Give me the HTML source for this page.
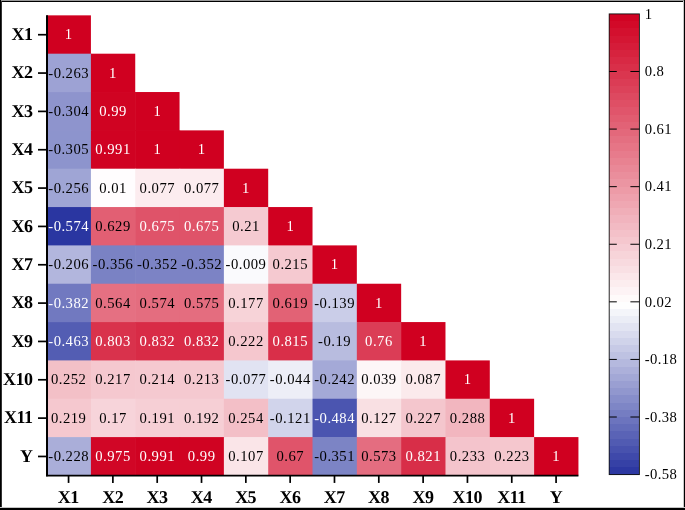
<!DOCTYPE html>
<html lang="en"><head><meta charset="utf-8"><title>Correlation heatmap</title>
<style>html,body{margin:0;padding:0;background:#fff;}body{width:685px;height:510px;overflow:hidden;}svg{display:block;}</style>
</head><body>
<svg width="685" height="510" viewBox="0 0 685 510">
<rect x="0" y="0" width="685" height="510" fill="#fff"/>
<g>
<rect x="46.60" y="15.35" width="44.32" height="38.94" fill="#d00020"/>
<rect x="46.60" y="53.69" width="44.92" height="38.94" fill="#9da2d4"/>
<rect x="90.92" y="53.69" width="44.32" height="38.94" fill="#d00020"/>
<rect x="46.60" y="92.03" width="44.92" height="38.94" fill="#8e94cd"/>
<rect x="90.92" y="92.03" width="44.92" height="38.94" fill="#d00322"/>
<rect x="135.24" y="92.03" width="44.32" height="38.94" fill="#d00020"/>
<rect x="46.60" y="130.37" width="44.92" height="38.94" fill="#8d94cd"/>
<rect x="90.92" y="130.37" width="44.92" height="38.94" fill="#d00222"/>
<rect x="135.24" y="130.37" width="44.92" height="38.94" fill="#d00020"/>
<rect x="179.56" y="130.37" width="44.32" height="38.94" fill="#d00020"/>
<rect x="46.60" y="168.71" width="44.92" height="38.94" fill="#9fa5d5"/>
<rect x="90.92" y="168.71" width="44.92" height="38.94" fill="#fffdfe"/>
<rect x="135.24" y="168.71" width="44.92" height="38.94" fill="#fcecef"/>
<rect x="179.56" y="168.71" width="44.92" height="38.94" fill="#fcecef"/>
<rect x="223.88" y="168.71" width="44.32" height="38.94" fill="#d00020"/>
<rect x="46.60" y="207.05" width="44.92" height="38.94" fill="#2a36a1"/>
<rect x="90.92" y="207.05" width="44.92" height="38.94" fill="#e25f73"/>
<rect x="135.24" y="207.05" width="44.92" height="38.94" fill="#df5369"/>
<rect x="179.56" y="207.05" width="44.92" height="38.94" fill="#df5369"/>
<rect x="223.88" y="207.05" width="44.92" height="38.94" fill="#f5cad1"/>
<rect x="268.20" y="207.05" width="44.32" height="38.94" fill="#d00020"/>
<rect x="46.60" y="245.39" width="44.92" height="38.94" fill="#b2b6dd"/>
<rect x="90.92" y="245.39" width="44.92" height="38.94" fill="#7a82c4"/>
<rect x="135.24" y="245.39" width="44.92" height="38.94" fill="#7c83c5"/>
<rect x="179.56" y="245.39" width="44.92" height="38.94" fill="#7c83c5"/>
<rect x="223.88" y="245.39" width="44.92" height="38.94" fill="#fafafd"/>
<rect x="268.20" y="245.39" width="44.92" height="38.94" fill="#f5c9d0"/>
<rect x="312.52" y="245.39" width="44.32" height="38.94" fill="#d00020"/>
<rect x="46.60" y="283.73" width="44.92" height="38.94" fill="#7179c0"/>
<rect x="90.92" y="283.73" width="44.92" height="38.94" fill="#e57082"/>
<rect x="135.24" y="283.73" width="44.92" height="38.94" fill="#e46d7f"/>
<rect x="179.56" y="283.73" width="44.92" height="38.94" fill="#e46d7f"/>
<rect x="223.88" y="283.73" width="44.92" height="38.94" fill="#f7d3d8"/>
<rect x="268.20" y="283.73" width="44.92" height="38.94" fill="#e26275"/>
<rect x="312.52" y="283.73" width="44.92" height="38.94" fill="#cacde8"/>
<rect x="356.84" y="283.73" width="44.32" height="38.94" fill="#d00020"/>
<rect x="46.60" y="322.07" width="44.92" height="38.94" fill="#535db3"/>
<rect x="90.92" y="322.07" width="44.92" height="38.94" fill="#d9324c"/>
<rect x="135.24" y="322.07" width="44.92" height="38.94" fill="#d82b46"/>
<rect x="179.56" y="322.07" width="44.92" height="38.94" fill="#d82b46"/>
<rect x="223.88" y="322.07" width="44.92" height="38.94" fill="#f5c7ce"/>
<rect x="268.20" y="322.07" width="44.92" height="38.94" fill="#d92f49"/>
<rect x="312.52" y="322.07" width="44.92" height="38.94" fill="#b8bcdf"/>
<rect x="356.84" y="322.07" width="44.92" height="38.94" fill="#db3d56"/>
<rect x="401.16" y="322.07" width="44.32" height="38.94" fill="#d00020"/>
<rect x="46.60" y="360.41" width="44.92" height="38.94" fill="#f3c0c7"/>
<rect x="90.92" y="360.41" width="44.92" height="38.94" fill="#f5c8cf"/>
<rect x="135.24" y="360.41" width="44.92" height="38.94" fill="#f5c9d0"/>
<rect x="179.56" y="360.41" width="44.92" height="38.94" fill="#f5c9d0"/>
<rect x="223.88" y="360.41" width="44.92" height="38.94" fill="#e1e3f2"/>
<rect x="268.20" y="360.41" width="44.92" height="38.94" fill="#edeef7"/>
<rect x="312.52" y="360.41" width="44.92" height="38.94" fill="#a4a9d7"/>
<rect x="356.84" y="360.41" width="44.92" height="38.94" fill="#fdf6f7"/>
<rect x="401.16" y="360.41" width="44.92" height="38.94" fill="#fbeaec"/>
<rect x="445.48" y="360.41" width="44.32" height="38.94" fill="#d00020"/>
<rect x="46.60" y="398.75" width="44.92" height="38.94" fill="#f5c8cf"/>
<rect x="90.92" y="398.75" width="44.92" height="38.94" fill="#f7d4da"/>
<rect x="135.24" y="398.75" width="44.92" height="38.94" fill="#f6cfd5"/>
<rect x="179.56" y="398.75" width="44.92" height="38.94" fill="#f6cfd5"/>
<rect x="223.88" y="398.75" width="44.92" height="38.94" fill="#f3bfc7"/>
<rect x="268.20" y="398.75" width="44.92" height="38.94" fill="#d1d4eb"/>
<rect x="312.52" y="398.75" width="44.92" height="38.94" fill="#4b55b0"/>
<rect x="356.84" y="398.75" width="44.92" height="38.94" fill="#f9e0e3"/>
<rect x="401.16" y="398.75" width="44.92" height="38.94" fill="#f4c6cd"/>
<rect x="445.48" y="398.75" width="44.92" height="38.94" fill="#f2b6bf"/>
<rect x="489.80" y="398.75" width="44.32" height="38.94" fill="#d00020"/>
<rect x="46.60" y="437.09" width="44.92" height="38.34" fill="#aaaed9"/>
<rect x="90.92" y="437.09" width="44.92" height="38.34" fill="#d10626"/>
<rect x="135.24" y="437.09" width="44.92" height="38.34" fill="#d00222"/>
<rect x="179.56" y="437.09" width="44.92" height="38.34" fill="#d00322"/>
<rect x="223.88" y="437.09" width="44.92" height="38.34" fill="#fae5e8"/>
<rect x="268.20" y="437.09" width="44.92" height="38.34" fill="#e0546a"/>
<rect x="312.52" y="437.09" width="44.92" height="38.34" fill="#7c84c5"/>
<rect x="356.84" y="437.09" width="44.92" height="38.34" fill="#e46d80"/>
<rect x="401.16" y="437.09" width="44.92" height="38.34" fill="#d82e48"/>
<rect x="445.48" y="437.09" width="44.92" height="38.34" fill="#f4c4cc"/>
<rect x="489.80" y="437.09" width="44.92" height="38.34" fill="#f5c7ce"/>
<rect x="534.12" y="437.09" width="44.32" height="38.34" fill="#d00020"/>
</g>
<g font-family="'Liberation Serif', 'Times New Roman', serif" font-size="14.67" letter-spacing="0.5">
<text x="64.79" y="39.42" fill="#fff">1</text>
<text x="48.26" y="77.76" fill="#000">-0.263</text>
<text x="109.11" y="77.76" fill="#fff">1</text>
<text x="48.26" y="116.10" fill="#000">-0.304</text>
<text x="99.19" y="116.10" fill="#fff">0.99</text>
<text x="153.43" y="116.10" fill="#fff">1</text>
<text x="48.26" y="154.44" fill="#000">-0.305</text>
<text x="95.28" y="154.44" fill="#fff">0.991</text>
<text x="153.43" y="154.44" fill="#fff">1</text>
<text x="197.75" y="154.44" fill="#fff">1</text>
<text x="48.26" y="192.78" fill="#000">-0.256</text>
<text x="99.19" y="192.78" fill="#000">0.01</text>
<text x="139.60" y="192.78" fill="#000">0.077</text>
<text x="183.92" y="192.78" fill="#000">0.077</text>
<text x="242.07" y="192.78" fill="#fff">1</text>
<text x="48.26" y="231.12" fill="#fff">-0.574</text>
<text x="95.28" y="231.12" fill="#000">0.629</text>
<text x="139.60" y="231.12" fill="#fff">0.675</text>
<text x="183.92" y="231.12" fill="#fff">0.675</text>
<text x="232.15" y="231.12" fill="#000">0.21</text>
<text x="286.39" y="231.12" fill="#fff">1</text>
<text x="48.26" y="269.46" fill="#000">-0.206</text>
<text x="92.58" y="269.46" fill="#000">-0.356</text>
<text x="136.90" y="269.46" fill="#000">-0.352</text>
<text x="181.22" y="269.46" fill="#000">-0.352</text>
<text x="225.54" y="269.46" fill="#000">-0.009</text>
<text x="272.56" y="269.46" fill="#000">0.215</text>
<text x="330.71" y="269.46" fill="#fff">1</text>
<text x="48.26" y="307.80" fill="#fff">-0.382</text>
<text x="95.28" y="307.80" fill="#000">0.564</text>
<text x="139.60" y="307.80" fill="#000">0.574</text>
<text x="183.92" y="307.80" fill="#000">0.575</text>
<text x="228.24" y="307.80" fill="#000">0.177</text>
<text x="272.56" y="307.80" fill="#000">0.619</text>
<text x="314.18" y="307.80" fill="#000">-0.139</text>
<text x="375.03" y="307.80" fill="#fff">1</text>
<text x="48.26" y="346.14" fill="#fff">-0.463</text>
<text x="95.28" y="346.14" fill="#fff">0.803</text>
<text x="139.60" y="346.14" fill="#fff">0.832</text>
<text x="183.92" y="346.14" fill="#fff">0.832</text>
<text x="228.24" y="346.14" fill="#000">0.222</text>
<text x="272.56" y="346.14" fill="#fff">0.815</text>
<text x="318.10" y="346.14" fill="#000">-0.19</text>
<text x="365.11" y="346.14" fill="#fff">0.76</text>
<text x="419.35" y="346.14" fill="#fff">1</text>
<text x="50.96" y="384.48" fill="#000">0.252</text>
<text x="95.28" y="384.48" fill="#000">0.217</text>
<text x="139.60" y="384.48" fill="#000">0.214</text>
<text x="183.92" y="384.48" fill="#000">0.213</text>
<text x="225.54" y="384.48" fill="#000">-0.077</text>
<text x="269.86" y="384.48" fill="#000">-0.044</text>
<text x="314.18" y="384.48" fill="#000">-0.242</text>
<text x="361.20" y="384.48" fill="#000">0.039</text>
<text x="405.52" y="384.48" fill="#000">0.087</text>
<text x="463.67" y="384.48" fill="#fff">1</text>
<text x="50.96" y="422.82" fill="#000">0.219</text>
<text x="99.19" y="422.82" fill="#000">0.17</text>
<text x="139.60" y="422.82" fill="#000">0.191</text>
<text x="183.92" y="422.82" fill="#000">0.192</text>
<text x="228.24" y="422.82" fill="#000">0.254</text>
<text x="269.86" y="422.82" fill="#000">-0.121</text>
<text x="314.18" y="422.82" fill="#fff">-0.484</text>
<text x="361.20" y="422.82" fill="#000">0.127</text>
<text x="405.52" y="422.82" fill="#000">0.227</text>
<text x="449.84" y="422.82" fill="#000">0.288</text>
<text x="507.99" y="422.82" fill="#fff">1</text>
<text x="48.26" y="461.16" fill="#000">-0.228</text>
<text x="95.28" y="461.16" fill="#fff">0.975</text>
<text x="139.60" y="461.16" fill="#fff">0.991</text>
<text x="187.83" y="461.16" fill="#fff">0.99</text>
<text x="228.24" y="461.16" fill="#000">0.107</text>
<text x="276.47" y="461.16" fill="#000">0.67</text>
<text x="314.18" y="461.16" fill="#000">-0.351</text>
<text x="361.20" y="461.16" fill="#000">0.573</text>
<text x="405.52" y="461.16" fill="#fff">0.821</text>
<text x="449.84" y="461.16" fill="#000">0.233</text>
<text x="494.16" y="461.16" fill="#000">0.223</text>
<text x="552.31" y="461.16" fill="#fff">1</text>
</g>
<g stroke="#000" fill="none">
<line x1="47.00" y1="15.35" x2="47.00" y2="476.23" stroke-width="2"/>
<line x1="46.00" y1="475.63" x2="578.44" y2="475.63" stroke-width="1.6"/>
<line x1="68.56" y1="475.43" x2="68.56" y2="482.93" stroke-width="1.7"/>
<line x1="38.00" y1="34.72" x2="47.00" y2="34.72" stroke-width="1.7"/>
<line x1="112.88" y1="475.43" x2="112.88" y2="482.93" stroke-width="1.7"/>
<line x1="38.00" y1="73.06" x2="47.00" y2="73.06" stroke-width="1.7"/>
<line x1="157.20" y1="475.43" x2="157.20" y2="482.93" stroke-width="1.7"/>
<line x1="38.00" y1="111.40" x2="47.00" y2="111.40" stroke-width="1.7"/>
<line x1="201.52" y1="475.43" x2="201.52" y2="482.93" stroke-width="1.7"/>
<line x1="38.00" y1="149.74" x2="47.00" y2="149.74" stroke-width="1.7"/>
<line x1="245.84" y1="475.43" x2="245.84" y2="482.93" stroke-width="1.7"/>
<line x1="38.00" y1="188.08" x2="47.00" y2="188.08" stroke-width="1.7"/>
<line x1="290.16" y1="475.43" x2="290.16" y2="482.93" stroke-width="1.7"/>
<line x1="38.00" y1="226.42" x2="47.00" y2="226.42" stroke-width="1.7"/>
<line x1="334.48" y1="475.43" x2="334.48" y2="482.93" stroke-width="1.7"/>
<line x1="38.00" y1="264.76" x2="47.00" y2="264.76" stroke-width="1.7"/>
<line x1="378.80" y1="475.43" x2="378.80" y2="482.93" stroke-width="1.7"/>
<line x1="38.00" y1="303.10" x2="47.00" y2="303.10" stroke-width="1.7"/>
<line x1="423.12" y1="475.43" x2="423.12" y2="482.93" stroke-width="1.7"/>
<line x1="38.00" y1="341.44" x2="47.00" y2="341.44" stroke-width="1.7"/>
<line x1="467.44" y1="475.43" x2="467.44" y2="482.93" stroke-width="1.7"/>
<line x1="38.00" y1="379.78" x2="47.00" y2="379.78" stroke-width="1.7"/>
<line x1="511.76" y1="475.43" x2="511.76" y2="482.93" stroke-width="1.7"/>
<line x1="38.00" y1="418.12" x2="47.00" y2="418.12" stroke-width="1.7"/>
<line x1="556.08" y1="475.43" x2="556.08" y2="482.93" stroke-width="1.7"/>
<line x1="38.00" y1="456.46" x2="47.00" y2="456.46" stroke-width="1.7"/>
</g>
<g font-family="'Liberation Serif', 'Times New Roman', serif" font-size="18" font-weight="bold" fill="#000" letter-spacing="-0.5" text-rendering="geometricPrecision">
<text x="68.36" y="503.00" text-anchor="middle">X1</text>
<text x="32.60" y="40.00" text-anchor="end">X1</text>
<text x="112.68" y="503.00" text-anchor="middle">X2</text>
<text x="32.60" y="78.00" text-anchor="end">X2</text>
<text x="157.00" y="503.00" text-anchor="middle">X3</text>
<text x="32.60" y="117.00" text-anchor="end">X3</text>
<text x="201.32" y="503.00" text-anchor="middle">X4</text>
<text x="32.60" y="155.00" text-anchor="end">X4</text>
<text x="245.64" y="503.00" text-anchor="middle">X5</text>
<text x="32.60" y="193.00" text-anchor="end">X5</text>
<text x="289.96" y="503.00" text-anchor="middle">X6</text>
<text x="32.60" y="232.00" text-anchor="end">X6</text>
<text x="334.28" y="503.00" text-anchor="middle">X7</text>
<text x="32.60" y="270.00" text-anchor="end">X7</text>
<text x="378.60" y="503.00" text-anchor="middle">X8</text>
<text x="32.60" y="308.00" text-anchor="end">X8</text>
<text x="422.92" y="503.00" text-anchor="middle">X9</text>
<text x="32.60" y="347.00" text-anchor="end">X9</text>
<text x="467.24" y="503.00" text-anchor="middle">X10</text>
<text x="32.60" y="385.00" text-anchor="end">X10</text>
<text x="511.56" y="503.00" text-anchor="middle">X11</text>
<text x="32.60" y="423.00" text-anchor="end">X11</text>
<text x="555.88" y="503.00" text-anchor="middle">Y</text>
<text x="32.60" y="462.00" text-anchor="end">Y</text>
</g>
<g shape-rendering="crispEdges">
<rect x="609.20" y="13.90" width="30.20" height="7.70" fill="#d10323"/>
<rect x="609.20" y="21.10" width="30.20" height="7.70" fill="#d20928"/>
<rect x="609.20" y="28.30" width="30.20" height="7.70" fill="#d3102e"/>
<rect x="609.20" y="35.50" width="30.20" height="7.70" fill="#d41633"/>
<rect x="609.20" y="42.69" width="30.20" height="7.70" fill="#d51c39"/>
<rect x="609.20" y="49.89" width="30.20" height="7.70" fill="#d6233e"/>
<rect x="609.20" y="57.09" width="30.20" height="7.70" fill="#d82944"/>
<rect x="609.20" y="64.29" width="30.20" height="7.70" fill="#d92f49"/>
<rect x="609.20" y="71.49" width="30.20" height="7.70" fill="#da364f"/>
<rect x="609.20" y="78.69" width="30.20" height="7.70" fill="#db3c55"/>
<rect x="609.20" y="85.88" width="30.20" height="7.70" fill="#dc425a"/>
<rect x="609.20" y="93.08" width="30.20" height="7.70" fill="#dd4960"/>
<rect x="609.20" y="100.28" width="30.20" height="7.70" fill="#df4f65"/>
<rect x="609.20" y="107.48" width="30.20" height="7.70" fill="#e0556b"/>
<rect x="609.20" y="114.68" width="30.20" height="7.70" fill="#e15c70"/>
<rect x="609.20" y="121.88" width="30.20" height="7.70" fill="#e26276"/>
<rect x="609.20" y="129.08" width="30.20" height="7.70" fill="#e3687b"/>
<rect x="609.20" y="136.27" width="30.20" height="7.70" fill="#e46f81"/>
<rect x="609.20" y="143.47" width="30.20" height="7.70" fill="#e67586"/>
<rect x="609.20" y="150.67" width="30.20" height="7.70" fill="#e77b8c"/>
<rect x="609.20" y="157.87" width="30.20" height="7.70" fill="#e88291"/>
<rect x="609.20" y="165.07" width="30.20" height="7.70" fill="#e98897"/>
<rect x="609.20" y="172.27" width="30.20" height="7.70" fill="#ea8e9c"/>
<rect x="609.20" y="179.46" width="30.20" height="7.70" fill="#eb95a2"/>
<rect x="609.20" y="186.66" width="30.20" height="7.70" fill="#ed9ba7"/>
<rect x="609.20" y="193.86" width="30.20" height="7.70" fill="#eea1ad"/>
<rect x="609.20" y="201.06" width="30.20" height="7.70" fill="#efa7b2"/>
<rect x="609.20" y="208.26" width="30.20" height="7.70" fill="#f0aeb8"/>
<rect x="609.20" y="215.46" width="30.20" height="7.70" fill="#f1b4be"/>
<rect x="609.20" y="222.65" width="30.20" height="7.70" fill="#f2bac3"/>
<rect x="609.20" y="229.85" width="30.20" height="7.70" fill="#f4c1c9"/>
<rect x="609.20" y="237.05" width="30.20" height="7.70" fill="#f5c7ce"/>
<rect x="609.20" y="244.25" width="30.20" height="7.70" fill="#f6cdd4"/>
<rect x="609.20" y="251.45" width="30.20" height="7.70" fill="#f7d4d9"/>
<rect x="609.20" y="258.65" width="30.20" height="7.70" fill="#f8dadf"/>
<rect x="609.20" y="265.85" width="30.20" height="7.70" fill="#f9e0e4"/>
<rect x="609.20" y="273.04" width="30.20" height="7.70" fill="#fbe7ea"/>
<rect x="609.20" y="280.24" width="30.20" height="7.70" fill="#fcedef"/>
<rect x="609.20" y="287.44" width="30.20" height="7.70" fill="#fdf3f5"/>
<rect x="609.20" y="294.64" width="30.20" height="7.70" fill="#fefafa"/>
<rect x="609.20" y="301.84" width="30.20" height="7.70" fill="#fefefe"/>
<rect x="609.20" y="309.04" width="30.20" height="7.70" fill="#f4f5fa"/>
<rect x="609.20" y="316.23" width="30.20" height="7.70" fill="#ebedf6"/>
<rect x="609.20" y="323.43" width="30.20" height="7.70" fill="#e2e4f2"/>
<rect x="609.20" y="330.63" width="30.20" height="7.70" fill="#d9dbee"/>
<rect x="609.20" y="337.83" width="30.20" height="7.70" fill="#d0d3ea"/>
<rect x="609.20" y="345.03" width="30.20" height="7.70" fill="#c7cae6"/>
<rect x="609.20" y="352.23" width="30.20" height="7.70" fill="#bec2e2"/>
<rect x="609.20" y="359.43" width="30.20" height="7.70" fill="#b5b9de"/>
<rect x="609.20" y="366.62" width="30.20" height="7.70" fill="#acb0da"/>
<rect x="609.20" y="373.82" width="30.20" height="7.70" fill="#a3a8d6"/>
<rect x="609.20" y="381.02" width="30.20" height="7.70" fill="#9a9fd2"/>
<rect x="609.20" y="388.22" width="30.20" height="7.70" fill="#9197ce"/>
<rect x="609.20" y="395.42" width="30.20" height="7.70" fill="#878eca"/>
<rect x="609.20" y="402.62" width="30.20" height="7.70" fill="#7e86c6"/>
<rect x="609.20" y="409.81" width="30.20" height="7.70" fill="#757dc2"/>
<rect x="609.20" y="417.01" width="30.20" height="7.70" fill="#6c74be"/>
<rect x="609.20" y="424.21" width="30.20" height="7.70" fill="#636cba"/>
<rect x="609.20" y="431.41" width="30.20" height="7.70" fill="#5a63b6"/>
<rect x="609.20" y="438.61" width="30.20" height="7.70" fill="#515bb2"/>
<rect x="609.20" y="445.81" width="30.20" height="7.70" fill="#4852ae"/>
<rect x="609.20" y="453.00" width="30.20" height="7.70" fill="#3f49aa"/>
<rect x="609.20" y="460.20" width="30.20" height="7.70" fill="#3641a6"/>
<rect x="609.20" y="467.40" width="30.20" height="7.70" fill="#2d38a2"/>
</g>
<rect x="609.20" y="13.90" width="30.20" height="460.70" fill="none" stroke="#111" stroke-width="0.9"/>
<g stroke="#000" stroke-width="1">
<line x1="609.20" y1="71.49" x2="616.80" y2="71.49"/>
<line x1="630.40" y1="71.49" x2="639.40" y2="71.49"/>
<line x1="609.20" y1="129.08" x2="616.80" y2="129.08"/>
<line x1="630.40" y1="129.08" x2="639.40" y2="129.08"/>
<line x1="609.20" y1="186.66" x2="616.80" y2="186.66"/>
<line x1="630.40" y1="186.66" x2="639.40" y2="186.66"/>
<line x1="609.20" y1="244.25" x2="616.80" y2="244.25"/>
<line x1="630.40" y1="244.25" x2="639.40" y2="244.25"/>
<line x1="609.20" y1="301.84" x2="616.80" y2="301.84"/>
<line x1="630.40" y1="301.84" x2="639.40" y2="301.84"/>
<line x1="609.20" y1="359.43" x2="616.80" y2="359.43"/>
<line x1="630.40" y1="359.43" x2="639.40" y2="359.43"/>
<line x1="609.20" y1="417.01" x2="616.80" y2="417.01"/>
<line x1="630.40" y1="417.01" x2="639.40" y2="417.01"/>
</g>
<g font-family="'Liberation Serif', 'Times New Roman', serif" font-size="14.67" letter-spacing="0.4" fill="#000">
<text x="644.80" y="19.00">1</text>
<text x="644.80" y="76.00">0.8</text>
<text x="644.80" y="134.00">0.61</text>
<text x="644.80" y="191.00">0.41</text>
<text x="644.80" y="249.00">0.21</text>
<text x="644.80" y="307.00">0.02</text>
<text x="644.80" y="364.00">-0.18</text>
<text x="644.80" y="422.00">-0.38</text>
<text x="644.80" y="479.00">-0.58</text>
</g>
<g shape-rendering="crispEdges">
<rect x="0" y="0" width="685" height="1" fill="#999"/>
<rect x="0" y="1" width="685" height="1" fill="#000"/>
<rect x="0" y="0" width="1" height="510" fill="#000"/>
<rect x="1" y="1" width="1" height="509" fill="#333"/>
<rect x="684" y="0" width="1" height="510" fill="#000"/>
<rect x="683" y="1" width="1" height="509" fill="#c8c8c8"/>
<rect x="0" y="508" width="685" height="2" fill="#000"/>
<rect x="0" y="507" width="685" height="1" fill="#c4c4c4"/>
</g>
</svg>
</body></html>
